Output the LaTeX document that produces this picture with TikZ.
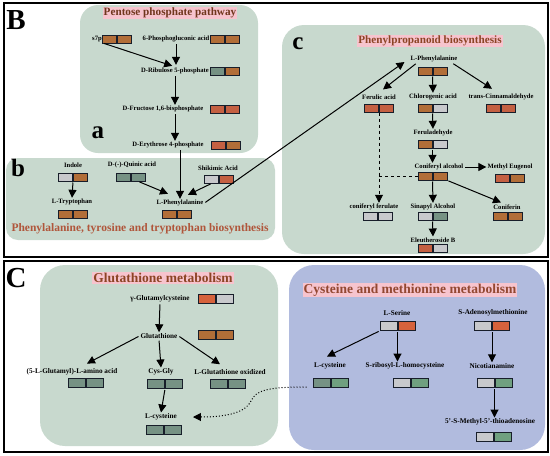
\documentclass[tikz,border=0pt]{standalone}
\usepackage{fontspec}
\setmainfont{Liberation Serif}
\usetikzlibrary{calc,arrows.meta}
\definecolor{panelGreen}{RGB}{200,217,206}
\definecolor{panelBlue}{RGB}{177,187,222}
\definecolor{titleBrown}{RGB}{140,68,36}
\definecolor{titlePink}{RGB}{247,196,206}
\definecolor{upBrown}{RGB}{178,110,56}
\definecolor{upRed}{RGB}{196,96,66}
\definecolor{upOrange}{RGB}{214,98,60}
\definecolor{flatGrey}{RGB}{200,201,204}
\definecolor{downSage}{RGB}{118,146,132}
\definecolor{downGreen}{RGB}{112,160,128}
\definecolor{cellLine}{RGB}{24,30,42}

\tikzset{
  panel/.style={rounded corners=18pt,fill=panelGreen,draw=none},
  frame/.style={draw=black,line width=1.2pt},
  lbl/.style={font=\bfseries\fontsize{6.6}{7}\selectfont,inner sep=1pt},
  lblbig/.style={font=\bfseries\fontsize{7.2}{8}\selectfont,inner sep=1pt},
  ttl/.style={font=\bfseries\fontsize{11.2}{12}\selectfont,text=titleBrown,fill=titlePink,inner sep=1pt},
  ttlbig/.style={ttl,font=\bfseries\fontsize{13.5}{14}\selectfont},
  tag/.style={font=\bfseries\fontsize{29}{29}\selectfont,inner sep=0pt},
  cell/.style={draw=cellLine,line width=1pt,minimum width=14pt,minimum height=8pt,inner sep=0pt},
  cellbig/.style={cell,minimum width=17pt,minimum height=9pt},
  arr/.style={line width=1pt,shorten <=1pt,-{Triangle[width=8pt,length=8pt]}},
}

% two-cell heat map: style, name, x, y, left colour, right colour
\newcommand{\hm}[6][cell]{%
  \node[#1,fill=#5,anchor=east] (#2l) at (#3,#4) {};
  \node[#1,fill=#6,anchor=west] (#2r) at (#3,#4) {};}

\begin{document}
\begin{tikzpicture}[x=1pt,y=-1pt]
\path[use as bounding box] (0,0) rectangle (550,456);

% frames and panels
\draw[frame] (4,3) rectangle (548,257);
\draw[frame] (4,261) rectangle (548,452);
\fill[panel] (80,5) rectangle (258,153);
\fill[panel,rounded corners=12pt] (6,158) rectangle (275,240);
\fill[panel,rounded corners=22pt] (282,25) rectangle (545,254);
\fill[panel,rounded corners=25pt] (40,265) rectangle (278,446);
\fill[panel,fill=panelBlue,rounded corners=25pt] (289,265) rectangle (545,450);

\node[tag] (tagB) at (16,20) {B};
\node[tag] (tagC) at (16,278) {C};
\node[tag,font=\bfseries\fontsize{25}{25}\selectfont] (taga) at (98,133) {a};
\node[tag,font=\bfseries\fontsize{25}{25}\selectfont] (tagb) at (18,168) {b};
\node[tag,font=\bfseries\fontsize{25}{25}\selectfont] (tagc) at (298,44) {c};

% a: pentose phosphate pathway
\node[ttl,text=titleBrown!80!black] (ptitle) at (170,13) {Pentose phosphate pathway};
\node[lbl] (s7p) at (97,39) {s7p};
\hm{s7p}{116.5}{39}{upBrown}{upBrown}
\node[lbl] (pga) at (176,39) {6-Phosphogluconic acid};
\hm{pga}{224.5}{39}{upBrown}{upBrown}
\node[lbl] (rib) at (175,71) {D-Ribulose 5-phosphate};
\hm{rib}{224.5}{71}{downSage}{upBrown}
\node[lbl] (fru) at (163,109) {D-Fructose 1,6-bisphosphate};
\hm{fru}{224.5}{109}{upRed}{upRed}
\node[lbl] (ery) at (168,145) {D-Erythrose 4-phosphate};
\hm{ery}{225.5}{145}{upRed}{upBrown}

\draw[arr,shorten >=3pt] (s7p.south east) -- (rib.north);
\draw[arr,shorten >=2pt] (pga.south) -- (pga.south |- rib.north);
\draw[arr] (rib.south) -- (rib.south |- fru.north);
\draw[arr] (rib.south |- fru.south) -- (rib.south |- ery.north);

% b: phenylalanine, tyrosine and tryptophan biosynthesis
\node[lbl] (indole) at (73,165) {Indole};
\hm{indole}{73}{177}{flatGrey}{upBrown}
\node[lbl] (trp) at (72,202) {L-Tryptophan};
\hm{trp}{73}{214}{upBrown}{upBrown}
\node[lbl] (quinic) at (132,165) {D-(-)-Quinic acid};
\hm{quinic}{131}{177}{downSage}{downSage}
\node[lbl] (shik) at (218,168) {Shikimic Acid};
\hm{shik}{219}{179}{flatGrey}{upRed}
\node[lbl] (phe) at (180,203) {L-Phenylalanine};
\hm{phe}{176.5}{214}{upBrown}{upBrown}
\node[ttl,fill=none,text=upRed!90!black,font=\bfseries\fontsize{11.5}{12}\selectfont] (btitle) at (140,229) {Phenylalanine, tyrosine and tryptophan biosynthesis};

\draw[arr] (ery.south -| phe.north) -- (phe.north);
\draw[arr] (indolel.south east) -- (trp.north);
\draw[arr] (quinicr.south) -- ($(phe.north)+(-12,-5)$);
\draw[arr] (shikl.south) -- ($(phe.north)+(8,-4)$);

% c: phenylpropanoid biosynthesis
\node[ttl] (ctitle) at (430,41) {Phenylpropanoid biosynthesis};
\node[lbl] (cphe) at (434,59) {L-Phenylalanine};
\hm{cphe}{432.5}{71}{upBrown}{upBrown}
\node[lbl] (fer) at (379,97) {Ferulic acid};
\hm{fer}{379}{108}{upRed}{upRed}
\node[lbl] (chl) at (433,97) {Chlorogenic acid};
\hm{chl}{432.5}{108}{upBrown}{flatGrey}
\node[lbl] (cinn) at (501,97) {trans-Cinnamaldehyde};
\hm{cinn}{501}{108}{upRed}{upRed}
\node[lbl] (feral) at (433,133) {Feruladehyde};
\hm{feral}{432.5}{144}{upBrown}{flatGrey}
\node[lbl] (conal) at (439,167) {Coniferyl alcohol};
\hm{conal}{432.5}{176}{upBrown}{upBrown}
\node[lbl] (methyl) at (510,167) {Methyl Eugenol};
\hm{methyl}{510}{178}{upRed}{upBrown}
\node[lbl] (conf) at (374,207) {coniferyl ferulate};
\hm{conf}{377.5}{216}{flatGrey}{flatGrey}
\node[lbl] (sin) at (433,207) {Sinapyl Alcohol};
\hm{sin}{432.5}{216}{flatGrey}{downSage}
\node[lbl] (coni) at (507,207) {Coniferin};
\hm{coni}{507.5}{216}{upBrown}{upBrown}
\node[lbl] (ele) at (433,240) {Eleutheroside B};
\hm{ele}{432.5}{248}{upRed}{flatGrey}

\draw[arr] (phe.east) -- ($(cphe.west)+(-5,3)$);
\draw[arr] ($(cphe.south west)+(7,0)$) -- ($(fer.north)+(4,-4)$);
\draw[arr] (cphel.south east) -- (chl.north);
\draw[arr] ($(cphe.south east)+(-6,0)$) -- ($(cinn.north)+(-9,-4)$);
\draw[arr] (chll.south east) -- (feral.north);
\draw[arr] (ferall.south east) -- (ferall.south east |- conal.north);
\draw[arr] (conall.south east) -- (sin.north);
\draw[arr] (sinl.south east) -- (ele.north);
\draw[arr] (conal.east) -- (methyl.west);
\draw[arr] (conalr.south east) -- ($(coni.north)+(-6,-1)$);
\draw[line width=0.9pt,dashed,-{Triangle[width=8pt,length=8pt]}] (ferl.south east) -- (ferl.south east |- conf.north);
\draw[line width=0.9pt,dashed] (conall.west) -- (conall.west -| ferl.south east);

% C: glutathione metabolism
\node[ttlbig] (gtitle) at (163,278) {Glutathione metabolism};
\node[lblbig] (gglu) at (160,299) {γ-Glutamylcysteine};
\hm[cellbig]{gglu}{215.5}{299}{upOrange}{flatGrey}
\node[lblbig] (glut) at (159,336) {Glutathione};
\hm[cellbig]{glut}{215.5}{335}{upBrown}{upBrown}
\node[lblbig] (amino) at (72,372) {(5-L-Glutamyl)-L-amino acid};
\hm[cellbig]{amino}{85.5}{383}{downSage}{downSage}
\node[lblbig] (cysgly) at (161,372) {Cys-Gly};
\hm[cellbig]{cysgly}{165}{384}{downSage}{downSage}
\node[lblbig] (oxid) at (230,372) {L-Glutathione oxidized};
\hm[cellbig]{oxid}{228}{384}{downSage}{downSage}
\node[lblbig] (lcys) at (161,417) {L-cysteine};
\hm[cellbig]{lcys}{163.5}{430}{downSage}{downSage}

\draw[arr] (gglu.south) -- (glut.north);
\draw[arr] (glut.west) -- ($(amino.north)+(15,-4)$);
\draw[arr] (glut.south) -- (cysgly.north);
\draw[arr] (glut.east) -- ($(oxid.north)+(-10,-4)$);
\draw[arr] (cysglyl.south east) -- (lcys.north);

% cysteine and methionine metabolism
\node[ttlbig,text=upRed!75!black] (mtitle) at (410,290) {Cysteine and methionine metabolism};
\node[lblbig] (ser) at (397,313) {L-Serine};
\hm[cellbig]{ser}{397.5}{326}{flatGrey}{upOrange}
\node[lblbig] (sam) at (493,313) {S-Adenosylmethionine};
\hm[cellbig]{sam}{492}{326}{flatGrey}{upOrange}
\node[lblbig] (lcysb) at (330,366) {L-cysteine};
\hm[cellbig]{lcysb}{330.5}{383}{downSage}{downGreen}
\node[lblbig] (ribo) at (405,366) {S-ribosyl-L-homocysteine};
\hm[cellbig]{ribo}{410.5}{383}{flatGrey}{downGreen}
\node[lblbig] (nico) at (492,366) {Nicotianamine};
\hm[cellbig]{nico}{494.5}{383}{flatGrey}{downGreen}
\node[lblbig] (mta) at (490,422) {5'-S-Methyl-5'-thioadenosine};
\hm[cellbig]{mta}{494}{437}{flatGrey}{downGreen}

\draw[arr] (serl.south west) -- ($(lcysb.north)+(-3,-5)$);
\draw[arr] (serl.south east) -- (serl.south east |- ribo.north);
\draw[arr] (saml.south east) -- (saml.south east |- nico.north);
\draw[arr] (nicol.south east) -- (nicol.south east |- mta.north);
\draw[line width=1pt,dotted,-{Triangle[width=8pt,length=8pt]}] ($(lcysbl.west)+(-6,4)$) .. controls (268,387) and (256,390) .. (251,401) .. controls (246,412) and (228,417) .. ($(lcys.east)+(15,0)$);
\end{tikzpicture}
\end{document}
